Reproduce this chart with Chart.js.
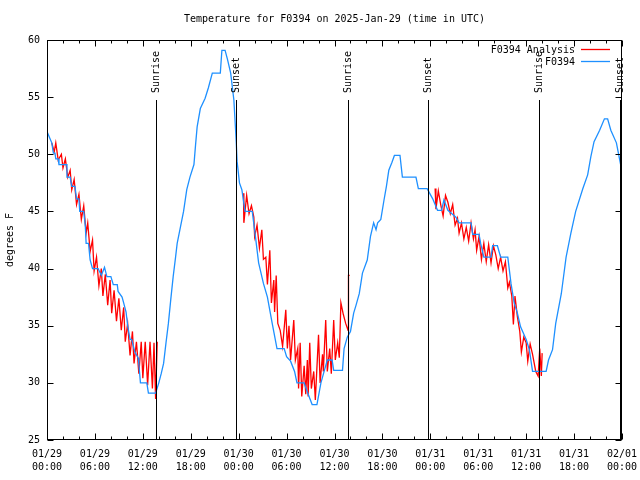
<!DOCTYPE html>
<html>
<head>
<meta charset="utf-8">
<script src="https://cdn.jsdelivr.net/npm/chart.js@4.4.1/dist/chart.umd.min.js"></script>
<style>
html, body { margin: 0; padding: 0; background: #fff; }
</style>
</head>
<body>
<canvas id="myChart" width="640" height="480"></canvas>
<script>
// hours since 2025-01-29 00:00 UTC
const obsHours = [0.0, 0.3, 0.6, 0.8, 1.0, 1.1, 1.4, 1.5, 2.5, 2.5, 2.9, 3.1, 3.5, 3.7, 4.0, 4.1, 4.6, 4.8, 4.9, 5.2,
  5.4, 5.7, 6.4, 6.8, 7.2, 7.5, 8.0, 8.3, 8.8, 8.9, 9.4, 9.6, 9.9, 10.1, 10.4, 10.6, 11.0, 11.4, 11.5, 11.7,
  12.5, 12.7, 13.6, 14.0, 14.3, 14.6, 14.9, 15.2, 15.5, 15.8, 16.1, 16.3, 16.7, 17.1, 17.5, 17.9, 18.4, 18.6, 18.8, 19.2,
  19.8, 20.2, 20.7, 21.7, 21.9, 22.3, 22.6, 23.0, 23.4, 23.6, 23.7, 23.8, 24.1, 24.4, 24.8, 25.7, 26.1, 26.5, 27.1, 27.6,
  28.2, 28.8, 29.7, 30.0, 30.5, 31.0, 31.3, 32.2, 32.6, 33.2, 33.8, 34.3, 34.7, 35.1, 35.7, 35.9, 37.0, 37.2, 37.6, 38.0,
  38.4, 38.7, 39.1, 39.5, 40.1, 40.5, 40.9, 41.2, 41.4, 41.8, 42.2, 42.5, 42.8, 43.2, 43.5, 44.2, 44.5, 46.2, 46.5, 47.6,
  48.3, 48.9, 49.4, 49.7, 50.2, 50.7, 51.2, 51.6, 53.1, 53.3, 54.1, 54.3, 54.7, 55.6, 55.8, 56.4, 56.8, 57.7, 58.1, 58.5,
  58.9, 59.3, 60.0, 60.4, 60.8, 62.5, 62.8, 63.3, 63.7, 64.4, 65.0, 65.6, 66.2, 67.1, 67.7, 68.1, 68.5, 69.2, 69.8, 70.2,
  70.6, 71.3, 71.8, 72.0];
const obsTemps = [52.0, 51.5, 51.0, 50.1, 50.1, 49.6, 49.6, 49.1, 49.1, 48.0, 48.0, 47.2, 47.2, 46.1, 46.1, 45.0, 45.0, 43.7, 42.2, 42.2,
  40.75, 40.0, 40.0, 39.4, 40.1, 39.3, 39.3, 38.6, 38.6, 38.0, 37.5, 37.0, 36.2, 35.0, 33.8, 33.8, 32.7, 32.2, 31.7, 30.0,
  30.0, 29.1, 29.1, 30.0, 30.8, 31.7, 33.5, 35.2, 37.3, 39.3, 41.0, 42.2, 43.6, 45.0, 46.9, 48.0, 49.1, 50.8, 52.4, 54.0,
  54.9, 55.8, 57.1, 57.1, 59.1, 59.1, 58.3, 57.1, 54.75, 52.3, 51.0, 49.4, 47.5, 46.9, 45.0, 45.0, 42.8, 40.5, 38.7, 37.5,
  35.2, 33.0, 33.0, 32.3, 31.9, 31.0, 30.0, 30.0, 29.2, 28.1, 28.1, 30.0, 31.0, 32.0, 32.0, 31.1, 31.1, 33.0, 34.0, 34.5,
  36.1, 36.8, 37.8, 39.6, 40.75, 42.8, 44.0, 43.4, 44.0, 44.3, 46.0, 47.2, 48.6, 49.3, 49.9, 49.9, 48.0, 48.0, 47.0, 47.0,
  46.1, 45.1, 45.1, 46.0, 45.1, 44.8, 44.5, 44.0, 44.0, 43.0, 43.0, 42.2, 41.0, 41.0, 42.0, 42.0, 41.0, 41.0, 38.7, 37.0,
  36.1, 34.9, 33.8, 32.9, 31.0, 31.0, 32.0, 32.9, 35.2, 37.8, 41.0, 43.1, 45.0, 47.0, 48.2, 49.8, 51.1, 52.1, 53.1, 53.1,
  52.1, 51.0, 49.2, 49.6];

// analysis, only overnight; null breaks the line
const anaHours = [0.6, 0.9, 1.1, 1.4, 1.8, 2.0, 2.3, 2.6, 2.9, 3.1, 3.4, 3.7, 4.0, 4.3, 4.6, 4.9, 5.1, 5.4, 5.7, 5.9,
  6.2, 6.5, 6.8, 7.0, 7.3, 7.6, 7.9, 8.1, 8.4, 8.7, 9.0, 9.3, 9.6, 9.8, 10.1, 10.4, 10.7, 10.9, 11.2, 11.5,
  11.8, 12.0, 12.3, 12.6, 12.9, 13.2, 13.4, 13.6, 13.8, 18.0,
  24.6, 24.65, 25.0, 25.3, 25.6, 25.9, 26.0, 26.3, 26.6, 26.9, 27.1, 27.4, 27.6, 27.9, 28.1, 28.4, 28.5, 28.7, 28.9, 29.2,
  29.5, 29.9, 30.1, 30.3, 30.5, 30.9, 31.1, 31.4, 31.5, 31.7, 31.9, 32.2, 32.4, 32.6, 32.7, 32.9, 33.1, 33.4, 33.6, 34.0,
  34.2, 34.5, 34.6, 34.9, 35.1, 35.4, 35.6, 35.9, 36.1, 36.4, 36.6, 36.8, 37.1, 37.4, 37.7, 37.75, 37.9, 42.0,
  48.6, 48.7, 49.0, 49.3, 49.6, 49.9, 50.2, 50.5, 50.8, 51.1, 51.4, 51.6, 51.9, 52.2, 52.5, 52.8, 53.1, 53.4, 53.6, 53.8,
  54.1, 54.4, 54.7, 55.0, 55.3, 55.6, 55.9, 56.2, 56.5, 56.8, 57.1, 57.4, 57.7, 57.9, 58.2, 58.4, 58.6, 58.9, 59.2, 59.4,
  59.7, 60.0, 60.2, 60.5, 60.8, 61.2, 61.5, 61.7, 61.9, 62.0];
const anaTemps = [51.0, 50.2, 51.0, 49.5, 50.0, 48.8, 49.6, 48.0, 48.6, 46.9, 47.8, 45.6, 46.5, 44.3, 45.5, 43.1, 44.0, 41.5, 42.5, 39.8,
  41.0, 38.5, 40.0, 37.6, 39.5, 36.8, 39.0, 36.1, 38.1, 35.4, 37.4, 34.6, 36.6, 33.6, 35.2, 32.4, 34.5, 31.7, 33.6, 30.8,
  33.6, 30.4, 33.6, 29.8, 33.6, 29.5, 33.5, 28.6, 33.6, null,
  46.6, 44.0, 46.4, 44.8, 45.5, 44.5, 42.8, 43.8, 41.8, 43.4, 40.8, 41.0, 38.6, 41.6, 37.0, 39.0, 36.2, 39.4, 35.2, 34.6,
  33.2, 36.4, 33.0, 35.0, 32.0, 35.5, 32.0, 33.0, 29.5, 33.5, 28.8, 31.5, 29.0, 32.0, 28.8, 33.5, 29.5, 31.0, 28.5, 34.2,
  30.0, 32.5, 31.0, 35.5, 31.0, 33.0, 30.8, 35.5, 32.0, 33.5, 32.2, 37.0, 36.0, 35.2, 34.6, 39.4, 39.4, null,
  47.0, 45.2, 46.8, 45.6, 44.6, 46.4, 45.8, 44.8, 45.6, 43.8, 44.4, 43.1, 44.0, 42.6, 43.6, 42.4, 44.0, 42.6, 43.4, 41.6,
  42.8, 40.8, 42.2, 40.6, 42.1, 40.5, 42.0, 41.2, 40.0, 41.0, 39.8, 40.6, 38.3, 38.8, 37.6, 35.1, 37.6, 35.8, 34.5, 32.7,
  34.0, 33.5, 31.9, 33.4, 32.5, 31.0, 30.6, 33.0, 30.6, 32.6];

const sunHours = [13.6, 23.65, 37.65, 47.65, 61.6, 71.75];
const sunNames = ['Sunrise', 'Sunset', 'Sunrise', 'Sunset', 'Sunrise', 'Sunset'];

const xTickLabels = [['01/29', '00:00'], ['01/29', '06:00'], ['01/29', '12:00'], ['01/29', '18:00'],
  ['01/30', '00:00'], ['01/30', '06:00'], ['01/30', '12:00'], ['01/30', '18:00'],
  ['01/31', '00:00'], ['01/31', '06:00'], ['01/31', '12:00'], ['01/31', '18:00'], ['02/01', '00:00']];

const seriesNames = ['F0394 Analysis', 'F0394'];
const seriesColors = ['#ff0000', '#1e90ff'];
const chartTitle = 'Temperature for F0394 on 2025-Jan-29 (time in UTC)';

const toPoints = (xs, ys) => xs.map((x, i) => ({ x: x, y: ys[i] }));

const FONT = "'DejaVu Sans Mono', 'Liberation Mono', monospace";
Chart.defaults.font.family = FONT;
Chart.defaults.font.size = 10;
Chart.defaults.color = '#000';

// title, frame, inward ticks, sunrise/sunset markers and the legend
const decorations = {
  id: 'decorations',
  afterDatasetsDraw(chart) {
    const { ctx, chartArea: a, scales: { x, y } } = chart;
    const L = Math.round(a.left) + 0.5, R = Math.round(a.right) - 0.5;
    const T = Math.round(a.top) + 0.5, B = Math.round(a.bottom) - 0.5;
    ctx.save();
    ctx.strokeStyle = '#000';
    ctx.lineWidth = 1;
    ctx.beginPath();
    for (let h = 0; h <= 72; h += 2) {
      const px = Math.round(x.getPixelForValue(h)) + 0.5;
      const len = h % 6 === 0 ? 6 : 3;
      ctx.moveTo(px, B); ctx.lineTo(px, B - len);
      ctx.moveTo(px, T); ctx.lineTo(px, T + len);
    }
    for (let v = 25; v <= 60; v += 5) {
      const py = Math.round(y.getPixelForValue(v)) + 0.5;
      ctx.moveTo(L, py); ctx.lineTo(L + 6, py);
      ctx.moveTo(R, py); ctx.lineTo(R - 6, py);
    }
    sunHours.forEach(h => {
      const px = Math.round(x.getPixelForValue(h)) + 0.5;
      ctx.moveTo(px, 100); ctx.lineTo(px, B);
    });
    ctx.stroke();
    ctx.strokeRect(L, T, R - L, B - T);

    ctx.fillStyle = '#000';
    ctx.font = '10px ' + FONT;
    ctx.textAlign = 'center';
    ctx.textBaseline = 'middle';
    ctx.fillText(chartTitle, (a.left + a.right) / 2, 19);

    sunHours.forEach((h, i) => {
      const px = Math.round(x.getPixelForValue(h)) + 0.5;
      ctx.save();
      ctx.translate(px, 93);
      ctx.rotate(-Math.PI / 2);
      ctx.textAlign = 'left';
      ctx.textBaseline = 'middle';
      ctx.fillText(sunNames[i], 0, 0);
      ctx.restore();
    });

    ctx.textAlign = 'right';
    ctx.textBaseline = 'middle';
    seriesNames.forEach((name, i) => {
      const ly = 50 + i * 12;
      ctx.fillText(name, 575, ly);
      ctx.beginPath();
      ctx.strokeStyle = seriesColors[i];
      ctx.lineWidth = 1.3;
      ctx.moveTo(581, ly - 0.5);
      ctx.lineTo(610, ly - 0.5);
      ctx.stroke();
    });
    ctx.restore();
  }
};

new Chart(document.getElementById('myChart'), {
  type: 'line',
  data: {
    datasets: [{
      label: seriesNames[0],
      data: toPoints(anaHours, anaTemps),
      borderColor: seriesColors[0],
      borderWidth: 1.3,
      pointRadius: 0,
      tension: 0,
      spanGaps: false,
      order: 1
    }, {
      label: seriesNames[1],
      data: toPoints(obsHours, obsTemps),
      borderColor: seriesColors[1],
      borderWidth: 1.3,
      pointRadius: 0,
      tension: 0,
      order: 0
    }]
  },
  plugins: [decorations],
  options: {
    responsive: false,
    animation: false,
    layout: { padding: { left: 0, right: 18, top: 40, bottom: 0 } },
    scales: {
      x: {
        type: 'linear',
        min: 0,
        max: 72,
        grid: { display: false, drawTicks: false },
        border: { display: false },
        ticks: {
          stepSize: 6,
          autoSkip: false,
          maxRotation: 0,
          padding: 8,
          font: { size: 10, lineHeight: 1.3 },
          callback: v => xTickLabels[v / 6]
        },
        afterFit: s => { s.height = 40; s.paddingLeft = 0; s.paddingRight = 0; }
      },
      y: {
        min: 25,
        max: 60,
        grid: { display: false, drawTicks: false },
        border: { display: false },
        ticks: { stepSize: 5, padding: 7 },
        title: { display: true, text: 'degrees F', padding: { top: 4, bottom: 0 } },
        afterFit: s => { s.width = 47; s.paddingTop = 0; s.paddingBottom = 0; }
      }
    },
    plugins: {
      legend: { display: false },
      tooltip: { enabled: false },
      title: { display: false }
    }
  }
});
</script>
</body>
</html>
